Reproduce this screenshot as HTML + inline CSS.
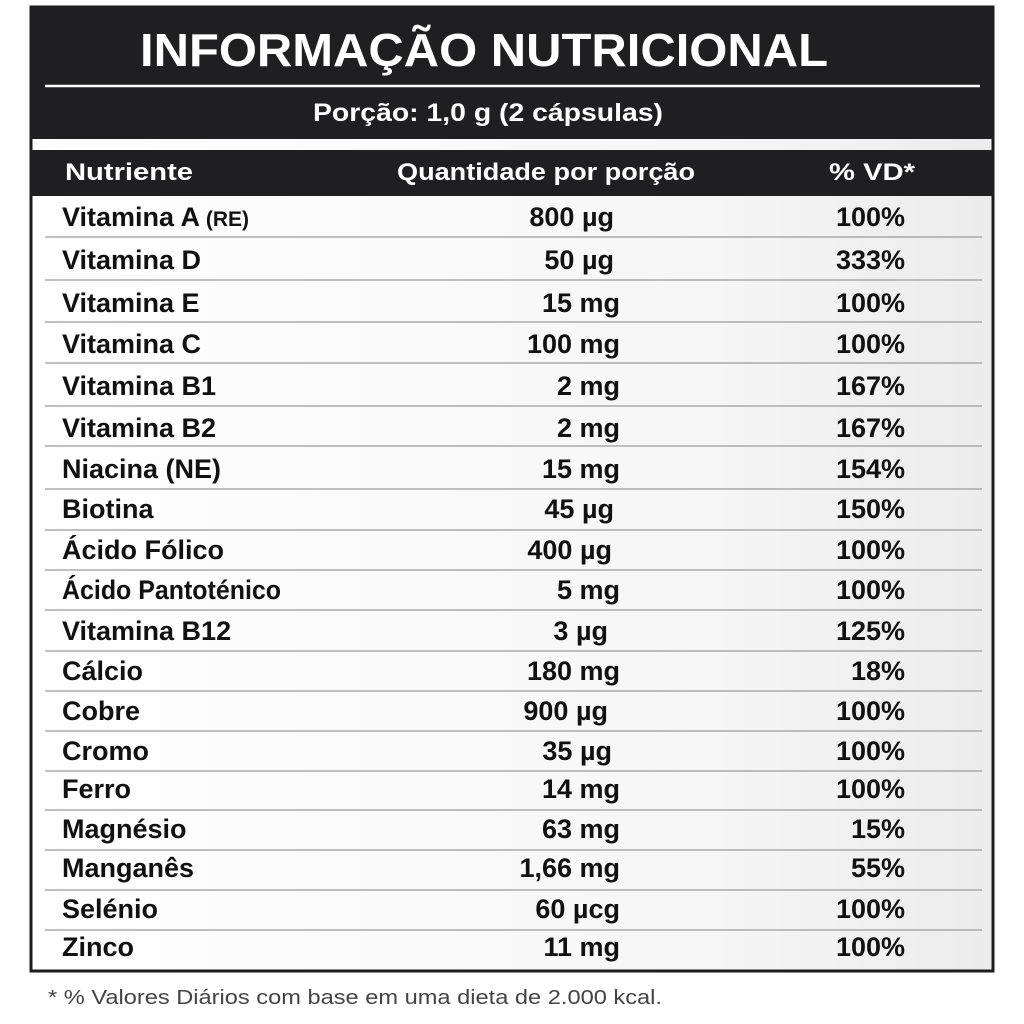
<!DOCTYPE html>
<html><head><meta charset="utf-8"><style>
html,body{margin:0;padding:0;background:#fff;}
svg{display:block}
text{font-family:"Liberation Sans","DejaVu Sans",sans-serif;}
</style></head><body>
<svg width="1024" height="1024" viewBox="0 0 1024 1024" xmlns="http://www.w3.org/2000/svg">
<defs><linearGradient id="bg" x1="0" y1="0" x2="1" y2="0"><stop offset="0" stop-color="#fff"/><stop offset="0.7" stop-color="#f6f6f6"/><stop offset="1" stop-color="#ececec"/></linearGradient></defs>
<rect x="0" y="0" width="1024" height="1024" fill="#fff"/>
<rect x="31" y="7" width="962" height="964" fill="url(#bg)" stroke="#1c1c1e" stroke-width="3"/>
<rect x="30" y="6" width="964" height="133" fill="#1f1f22"/>
<rect x="30" y="150" width="964" height="46" fill="#1f1f22"/>
<line x1="45" y1="86" x2="980" y2="86" stroke="#fff" stroke-width="2.5"/>
<text x="140" y="66" font-size="46" font-weight="bold" fill="#fff" textLength="688" lengthAdjust="spacingAndGlyphs">INFORMAÇÃO NUTRICIONAL</text>
<text x="313" y="121" font-size="25" font-weight="bold" fill="#fff" textLength="350" lengthAdjust="spacingAndGlyphs">Porção: 1,0 g (2 cápsulas)</text>
<g font-size="24" font-weight="bold" fill="#fff">
<text x="65" y="180" textLength="128" lengthAdjust="spacingAndGlyphs">Nutriente</text>
<text x="397" y="180" textLength="298" lengthAdjust="spacingAndGlyphs">Quantidade por porção</text>
<text x="829" y="180" textLength="86" lengthAdjust="spacingAndGlyphs">% VD*</text>
</g>
<g stroke="#9a9a9a" stroke-width="1.3">
<line x1="45" y1="237" x2="982" y2="237"/><line x1="45" y1="280" x2="982" y2="280"/>
<line x1="45" y1="322" x2="982" y2="322"/><line x1="45" y1="363" x2="982" y2="363"/>
<line x1="45" y1="406" x2="982" y2="406"/><line x1="45" y1="446" x2="982" y2="446"/>
<line x1="45" y1="489" x2="982" y2="489"/><line x1="45" y1="530" x2="982" y2="530"/>
<line x1="45" y1="570" x2="982" y2="570"/><line x1="45" y1="610" x2="982" y2="610"/>
<line x1="45" y1="651" x2="982" y2="651"/><line x1="45" y1="691" x2="982" y2="691"/>
<line x1="45" y1="731" x2="982" y2="731"/><line x1="45" y1="771" x2="982" y2="771"/>
<line x1="45" y1="810" x2="982" y2="810"/><line x1="45" y1="850" x2="982" y2="850"/>
<line x1="45" y1="890" x2="982" y2="890"/><line x1="45" y1="930" x2="982" y2="930"/>
</g>
<g font-size="27" font-weight="bold" fill="#111">
<text x="62" y="226">Vitamina A<tspan font-size="21"> (RE)</tspan></text>
<text x="62" y="269">Vitamina D</text>
<text x="62" y="312">Vitamina E</text>
<text x="62" y="353">Vitamina C</text>
<text x="62" y="395">Vitamina B1</text>
<text x="62" y="437">Vitamina B2</text>
<text x="62" y="478">Niacina (NE)</text>
<text x="62" y="518">Biotina</text>
<text x="62" y="559">Ácido Fólico</text>
<text x="62" y="599" textLength="219" lengthAdjust="spacingAndGlyphs">Ácido Pantoténico</text>
<text x="62" y="640">Vitamina B12</text>
<text x="62" y="680">Cálcio</text>
<text x="62" y="720">Cobre</text>
<text x="62" y="760">Cromo</text>
<text x="62" y="798">Ferro</text>
<text x="62" y="838">Magnésio</text>
<text x="62" y="877">Manganês</text>
<text x="62" y="918">Selénio</text>
<text x="62" y="956">Zinco</text>
</g>
<g font-size="27" font-weight="bold" fill="#111" text-anchor="end">
<text x="614" y="226">800 µg</text><text x="614" y="269">50 µg</text>
<text x="620" y="312">15 mg</text><text x="620" y="353">100 mg</text>
<text x="620" y="395">2 mg</text><text x="620" y="437">2 mg</text>
<text x="620" y="478">15 mg</text><text x="614" y="518">45 µg</text>
<text x="612" y="559">400 µg</text><text x="620" y="599">5 mg</text>
<text x="608" y="640">3 µg</text><text x="620" y="680">180 mg</text>
<text x="608" y="720">900 µg</text><text x="612" y="760">35 µg</text>
<text x="620" y="798">14 mg</text><text x="620" y="838">63 mg</text>
<text x="620" y="877">1,66 mg</text><text x="620" y="918">60 µcg</text>
<text x="620" y="956">11 mg</text>
</g>
<g font-size="27" font-weight="bold" fill="#111" text-anchor="end">
<text x="905" y="226">100%</text><text x="905" y="269">333%</text>
<text x="905" y="312">100%</text><text x="905" y="353">100%</text>
<text x="905" y="395">167%</text><text x="905" y="437">167%</text>
<text x="905" y="478">154%</text><text x="905" y="518">150%</text>
<text x="905" y="559">100%</text><text x="905" y="599">100%</text>
<text x="905" y="640">125%</text><text x="905" y="680">18%</text>
<text x="905" y="720">100%</text><text x="905" y="760">100%</text>
<text x="905" y="798">100%</text><text x="905" y="838">15%</text>
<text x="905" y="877">55%</text><text x="905" y="918">100%</text>
<text x="905" y="956">100%</text>
</g>
<text x="48" y="1004" font-size="20" fill="#444" textLength="614" lengthAdjust="spacingAndGlyphs">* % Valores Diários com base em uma dieta de 2.000 kcal.</text>
</svg>
</body></html>
